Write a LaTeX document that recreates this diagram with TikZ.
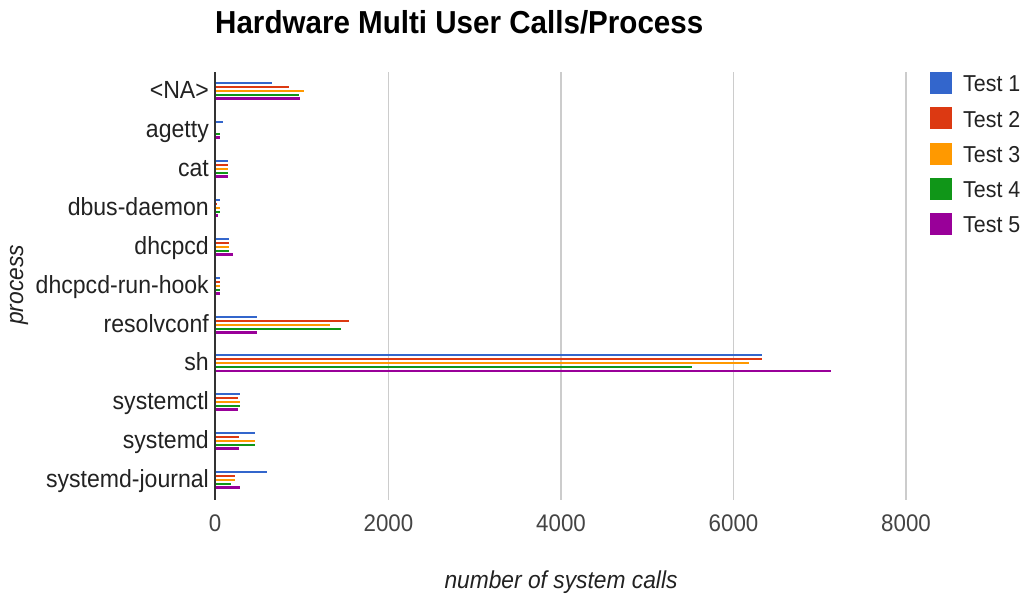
\documentclass[tikz,border=0pt]{standalone}
\usepackage{fontspec}
\setmainfont{Liberation Sans}[FakeStretch=0.93]
\definecolor{c1}{HTML}{3366CC}
\definecolor{c2}{HTML}{DC3912}
\definecolor{c3}{HTML}{FF9900}
\definecolor{c4}{HTML}{109618}
\definecolor{c5}{HTML}{990099}
\definecolor{txt}{HTML}{222222}
\definecolor{tick}{HTML}{444444}
\definecolor{grid}{HTML}{CCCCCC}
\definecolor{axisc}{HTML}{333333}
\tikzset{
  catlabel/.style={anchor=base east, inner sep=0pt, text=txt, font=\fontsize{24.8}{26}\selectfont},
  ticklabel/.style={anchor=center, inner sep=0pt, text=tick, font=\fontsize{24}{26}\selectfont},
  legtext/.style={anchor=base west, inner sep=0pt, text=txt, font=\fontsize{23}{25}\selectfont},
  legbox/.style={minimum width=22pt, minimum height=22pt, inner sep=0pt, draw=none},
  barline/.style={line width=2.1pt, line cap=butt},
  gridline/.style={draw=grid, line width=1.6pt},
}
\newcommand\grp[4]{%
  \node[catlabel] (#1) at (209,#3+7) {#2};
  \foreach \e [count=\i] in {#4} {
    \draw[barline, draw=c\i] (216,#3+\i*3.9-12) -- (\e,#3+\i*3.9-12);
  }
}
\begin{document}
\begin{tikzpicture}[x=1pt,y=-1pt]
\useasboundingbox[fill=white] (0,0) rectangle (1030,598);
% title
\node[anchor=base west, inner sep=0pt, font=\fontsize{31.8}{34}\selectfont\bfseries] (title) at (215,33) {Hardware Multi User Calls/Process};
% gridlines
\foreach \x/\n in {388.5/g1,561/g2,733.5/g3,906/g4} {
  \coordinate (\n t) at (\x,72);
  \coordinate (\n b) at (\x,500);
  \draw[gridline] (\n t) -- (\n b);
}
% ticks
\foreach \x/\v [count=\k] in {215/0,388.5/2000,561/4000,733.5/6000,906/8000} {
  \node[ticklabel] (tk\k) at (\x,523) {\v};
}
% groups
\grp{na}{<NA>}{91}{272,289,304,299,300}
\grp{agetty}{agetty}{130}{223,216,216,220,220}
\grp{cat}{cat}{169}{228,228,228,228,228}
\grp{dbus}{dbus-daemon}{208}{220,217,220,220,218}
\grp{dhcpcd}{dhcpcd}{247}{229,229,229,229,233}
\grp{hook}{dhcpcd-run-hook}{286}{220,220,220,220,220}
\grp{resolv}{resolvconf}{325}{257,349,330,341,257}
\grp{sh}{sh}{363.5}{762,762,749,692,831}
\grp{sctl}{systemctl}{402}{240,238,240,240,238}
\grp{sd}{systemd}{441}{255,239,255,255,239}
\grp{sdj}{systemd-journal}{480}{267,235,235,231,240}
% axis line
\coordinate (at) at (215,72);
\coordinate (ab) at (215,500);
\draw[draw=axisc, line width=2pt] (at) -- (ab);
% axis titles
\node[inner sep=0pt, text=txt, font=\fontsize{24.5}{26}\selectfont\itshape] (xt) at (561,582) {number of system calls};
\node[inner sep=0pt, text=txt, rotate=90, font=\fontsize{24.5}{26}\selectfont\itshape] (yt) at (19,285) {process};
% legend
\foreach \k in {1,...,5} {
  \node[legbox, fill=c\k] (lb\k) at (941,{83+(\k-1)*35.3}) {};
  \node[legtext] (lt\k) at (963,{91.7+(\k-1)*35.3}) {Test \k};
}
\end{tikzpicture}
\end{document}
